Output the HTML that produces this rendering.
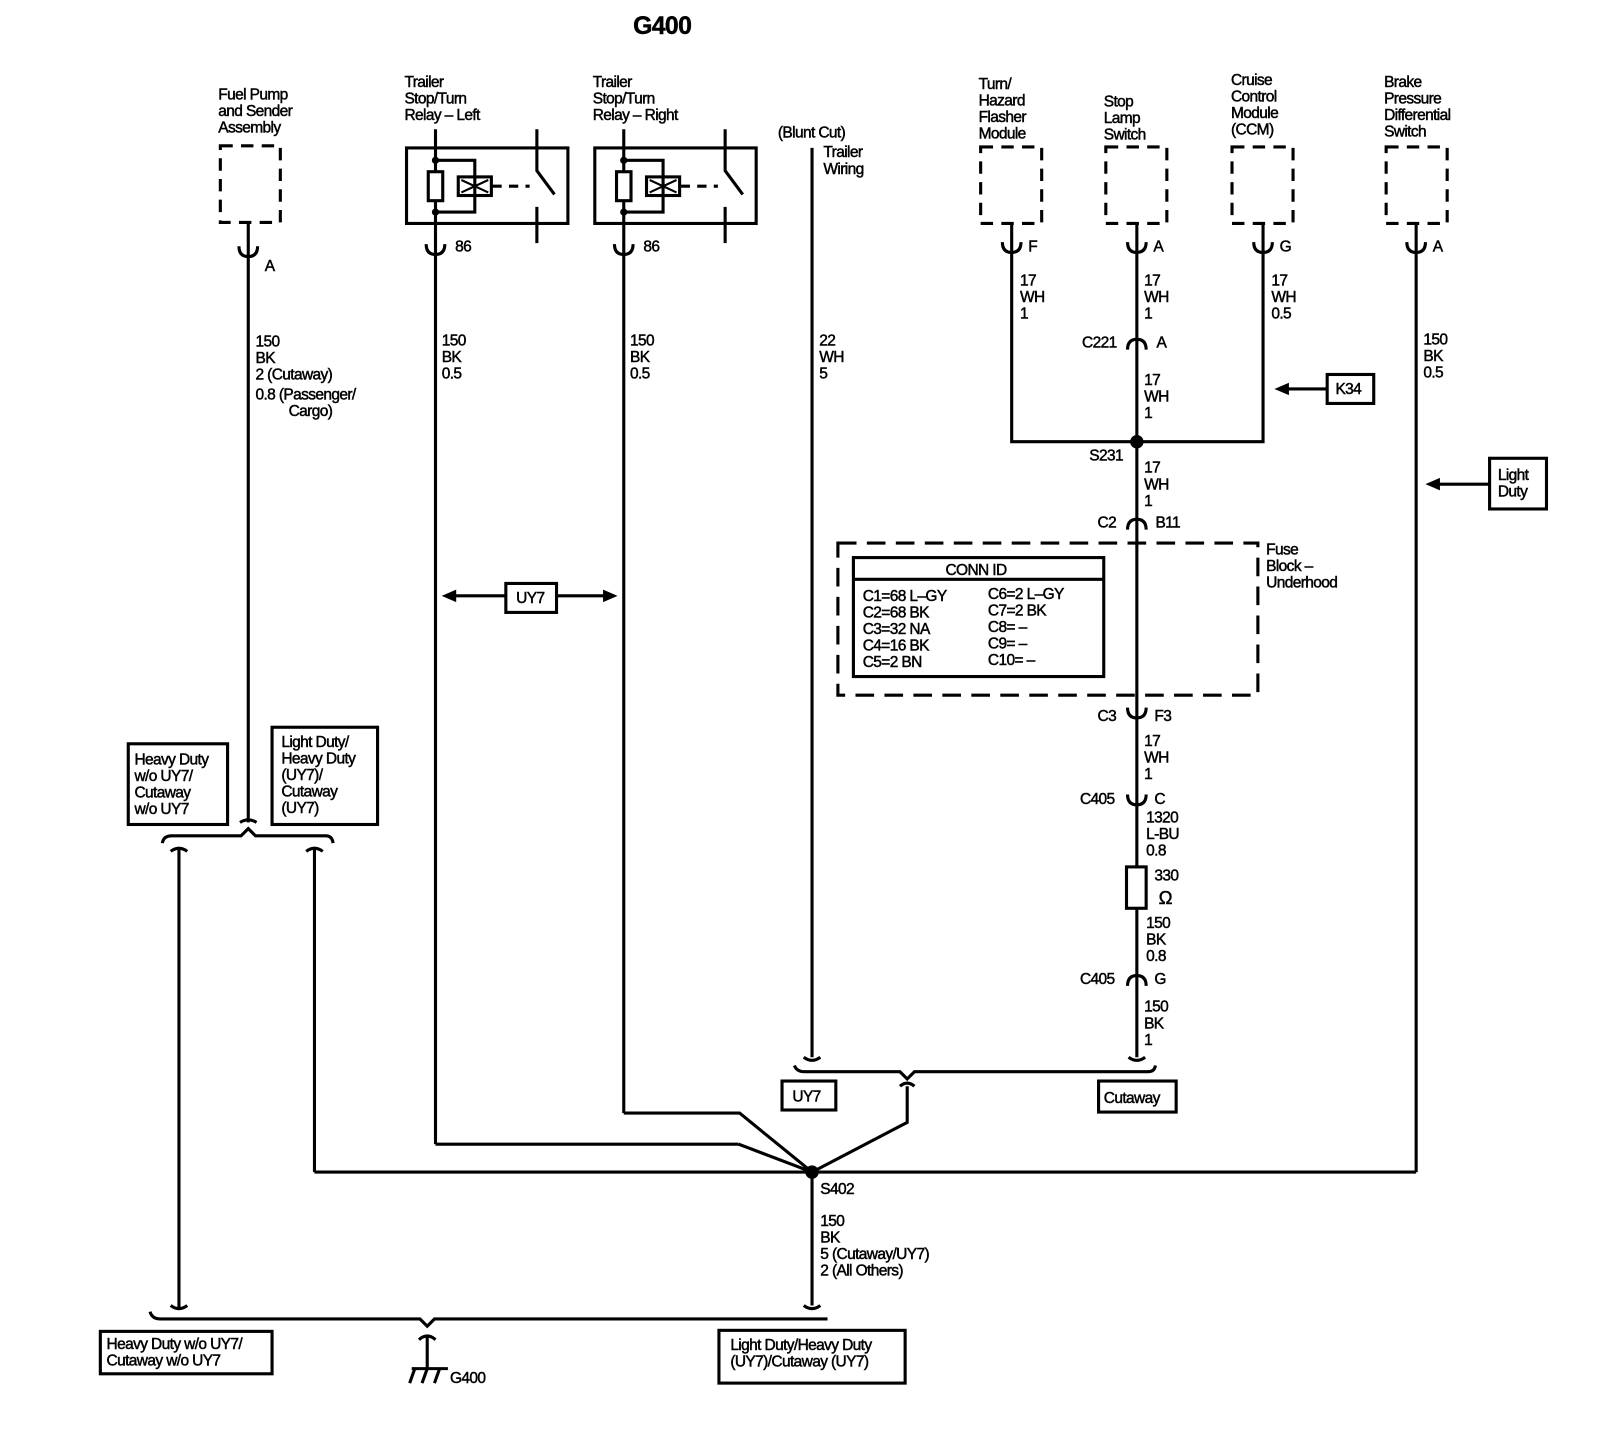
<!DOCTYPE html>
<html><head><meta charset="utf-8"><style>
html,body{margin:0;padding:0;background:#fff;}
svg{display:block;}
text{font-family:"Liberation Sans",Arial,sans-serif;font-size:15px;fill:#000;letter-spacing:-0.6px;stroke:#000;stroke-width:0.45px;}
</style></head><body>
<svg width="1622" height="1440" viewBox="0 0 1568 1392" preserveAspectRatio="none" xmlns="http://www.w3.org/2000/svg">
<g fill="none" stroke="#000" stroke-width="3">
<rect x="213" y="141" width="58" height="74" stroke-dasharray="12,8"/>
<line x1="240" y1="215" x2="240" y2="795"/>
<path d="M231 238 Q231 248 240 248 Q249 248 249 238"/>
<rect x="393" y="143" width="156" height="73"/>
<line x1="421" y1="125" x2="421" y2="1106"/>
<line x1="421" y1="1106" x2="714" y2="1106"/><line x1="714" y1="1106" x2="785" y2="1133"/>
<rect x="414" y="166" width="14" height="28" fill="#fff"/>
<path d="M421 155 H459 V205 H421"/>
<rect x="443" y="171" width="32" height="18"/>
<path d="M446 174 L472 186 M446 186 L472 174" stroke-width="2"/>
<line x1="476" y1="180" x2="512" y2="180" stroke-dasharray="9,7"/>
<path d="M519 125 V165 L536 188 M519 200 V235"/>
<path d="M412 236 Q412 246 421 246 Q430 246 430 236"/>
<rect x="575" y="143" width="156" height="73"/>
<line x1="603" y1="125" x2="603" y2="1076"/>
<path d="M603 1076 H715 L785 1133"/>
<rect x="596" y="166" width="14" height="28" fill="#fff"/>
<path d="M603 155 H641 V205 H603"/>
<rect x="625" y="171" width="32" height="18"/>
<path d="M628 174 L654 186 M628 186 L654 174" stroke-width="2"/>
<line x1="658" y1="180" x2="694" y2="180" stroke-dasharray="9,7"/>
<path d="M701 125 V165 L718 188 M701 200 V235"/>
<path d="M594 236 Q594 246 603 246 Q612 246 612 236"/>
<line x1="785" y1="143" x2="785" y2="1022"/>
<path d="M777 1022 Q785 1028 793 1022"/>
<rect x="489" y="564" width="49" height="28"/>
<line x1="438" y1="576" x2="489" y2="576"/><line x1="538" y1="576" x2="586" y2="576"/>
<rect x="948" y="142" width="59" height="74" stroke-dasharray="12,8"/>
<rect x="1069" y="142" width="59" height="74" stroke-dasharray="12,8"/>
<rect x="1191" y="142" width="59" height="74" stroke-dasharray="12,8"/>
<rect x="1340" y="142" width="59" height="74" stroke-dasharray="12,8"/>
<path d="M978 216 V427 H1221 V216"/>
<path d="M969 234 Q969 244 978 244 Q987 244 987 234 M1090 234 Q1090 244 1099 244 Q1108 244 1108 234 M1212 234 Q1212 244 1221 244 Q1230 244 1230 234 M1360 234 Q1360 244 1369 244 Q1378 244 1378 234"/>
<line x1="1099" y1="216" x2="1099" y2="1022"/>
<path d="M1091 1022 Q1099 1028 1107 1022"/>
<line x1="1369" y1="216" x2="1369" y2="1133"/>
<line x1="304" y1="1133" x2="1369" y2="1133"/>
<rect x="1283" y="362" width="45" height="28"/>
<line x1="1243" y1="376" x2="1283" y2="376"/>
<rect x="1440" y="443" width="55" height="49"/>
<line x1="1390" y1="468" x2="1440" y2="468"/>
<path d="M1090 338 Q1090 328 1099 328 Q1108 328 1108 338 M1090 512 Q1090 502 1099 502 Q1108 502 1108 512 M1090 684 Q1090 694 1099 694 Q1108 694 1108 684 M1090 768 Q1090 778 1099 778 Q1108 778 1108 768 M1090 953 Q1090 943 1099 943 Q1108 943 1108 953"/>
<rect x="1089" y="838" width="19" height="40" fill="#fff"/>
<rect x="810" y="525" width="406" height="147" stroke-dasharray="18,10"/>
<rect x="825" y="539" width="242" height="115"/>
<line x1="825" y1="560" x2="1067" y2="560"/>
<path d="M768 1030 Q770 1036 778 1036 H870 L877 1043 L884 1036 H1110 Q1116 1036 1117 1030"/>
<path d="M870 1050 Q877 1044 884 1050 M877 1050 V1085 L785 1133"/>
<rect x="756" y="1045" width="52" height="28"/>
<rect x="1062" y="1045" width="75" height="30"/>
<path d="M232 795 Q240 790 248 795"/>
<path d="M157 815 Q158 808 166 808 H233 L240 801 L247 808 H315 Q321 808 322 815"/>
<path d="M165 823 Q173 817 181 823 M296 823 Q304 817 312 823"/>
<line x1="173" y1="820" x2="173" y2="1265"/>
<line x1="304" y1="820" x2="304" y2="1133"/>
<rect x="124" y="719" width="96" height="78"/>
<rect x="263" y="703" width="102" height="94"/>
<circle cx="785" cy="1133" r="5" fill="#000"/>
<circle cx="1099" cy="427" r="5" fill="#000"/>
<line x1="785" y1="1133" x2="785" y2="1262"/>
<path d="M165 1262 Q173 1268 181 1262 M777 1262 Q785 1268 793 1262"/>
<path d="M145 1268 Q147 1275 155 1275 H406 L413 1282 L420 1275 H800"/>
<path d="M405 1295 Q413 1288 421 1295 M413 1293 V1323 M398 1323 H433 M401 1323 L396 1337 M413 1323 L408 1337 M425 1323 L420 1337"/>
<rect x="97" y="1287" width="166" height="41"/>
<rect x="695" y="1286" width="180" height="51"/>
</g>
<g fill="#000">
<polygon points="427,576 441,570 441,582"/>
<polygon points="597,576 583,570 583,582"/>
<polygon points="1232,376 1246,370 1246,382"/>
<polygon points="1378,468 1392,462 1392,474"/>
<circle cx="421" cy="155" r="3.5"/><circle cx="421" cy="205" r="3.5"/>
<circle cx="603" cy="155" r="3.5"/><circle cx="603" cy="205" r="3.5"/>
</g>
<text x="612" y="33" style="font-size:24px;font-weight:bold">G400</text>
<text x="211" y="96">Fuel Pump</text><text x="211" y="112">and Sender</text><text x="211" y="128">Assembly</text>
<text x="256" y="262">A</text>
<text x="247" y="335">150</text><text x="247" y="351">BK</text><text x="247" y="367">2 (Cutaway)</text><text x="247" y="386">0.8 (Passenger/</text><text x="279" y="402">Cargo)</text>
<text x="391" y="84">Trailer</text><text x="391" y="100">Stop/Turn</text><text x="391" y="116">Relay – Left</text>
<text x="573" y="84">Trailer</text><text x="573" y="100">Stop/Turn</text><text x="573" y="116">Relay – Right</text>
<text x="440" y="243">86</text><text x="622" y="243">86</text>
<text x="427" y="334">150</text><text x="427" y="350">BK</text><text x="427" y="366">0.5</text>
<text x="609" y="334">150</text><text x="609" y="350">BK</text><text x="609" y="366">0.5</text>
<text x="752" y="133">(Blunt Cut)</text><text x="796" y="152">Trailer</text><text x="796" y="168">Wiring</text>
<text x="792" y="334">22</text><text x="792" y="350">WH</text><text x="792" y="366">5</text>
<text x="499" y="583">UY7</text>
<text x="946" y="86">Turn/</text><text x="946" y="102">Hazard</text><text x="946" y="118">Flasher</text><text x="946" y="134">Module</text>
<text x="1067" y="103">Stop</text><text x="1067" y="119">Lamp</text><text x="1067" y="135">Switch</text>
<text x="1190" y="82">Cruise</text><text x="1190" y="98">Control</text><text x="1190" y="114">Module</text><text x="1190" y="130">(CCM)</text>
<text x="1338" y="84">Brake</text><text x="1338" y="100">Pressure</text><text x="1338" y="116">Differential</text><text x="1338" y="132">Switch</text>
<text x="994" y="243">F</text><text x="1115" y="243">A</text><text x="1237" y="243">G</text><text x="1385" y="243">A</text>
<text x="986" y="276">17</text><text x="986" y="292">WH</text><text x="986" y="308">1</text>
<text x="1106" y="276">17</text><text x="1106" y="292">WH</text><text x="1106" y="308">1</text>
<text x="1229" y="276">17</text><text x="1229" y="292">WH</text><text x="1229" y="308">0.5</text>
<text x="1376" y="333">150</text><text x="1376" y="349">BK</text><text x="1376" y="365">0.5</text>
<text x="1046" y="336">C221</text><text x="1118" y="336">A</text>
<text x="1106" y="372">17</text><text x="1106" y="388">WH</text><text x="1106" y="404">1</text>
<text x="1291" y="381">K34</text>
<text x="1448" y="464">Light</text><text x="1448" y="480">Duty</text>
<text x="1053" y="445">S231</text>
<text x="1106" y="457">17</text><text x="1106" y="473">WH</text><text x="1106" y="489">1</text>
<text x="1061" y="510">C2</text><text x="1117" y="510">B11</text>
<text x="1224" y="536">Fuse</text><text x="1224" y="552">Block –</text><text x="1224" y="568">Underhood</text>
<text x="914" y="556">CONN ID</text>
<text x="834" y="581">C1=68 L–GY</text><text x="834" y="597">C2=68 BK</text><text x="834" y="613">C3=32 NA</text><text x="834" y="629">C4=16 BK</text><text x="834" y="645">C5=2 BN</text>
<text x="955" y="579">C6=2 L–GY</text><text x="955" y="595">C7=2 BK</text><text x="955" y="611">C8= –</text><text x="955" y="627">C9= –</text><text x="955" y="643">C10= –</text>
<text x="1061" y="697">C3</text><text x="1116" y="697">F3</text>
<text x="1106" y="721">17</text><text x="1106" y="737">WH</text><text x="1106" y="753">1</text>
<text x="1044" y="777">C405</text><text x="1116" y="777">C</text>
<text x="1108" y="795">1320</text><text x="1108" y="811">L-BU</text><text x="1108" y="827">0.8</text>
<text x="1116" y="851">330</text><text x="1120" y="874" style="font-size:18px">Ω</text>
<text x="1108" y="897">150</text><text x="1108" y="913">BK</text><text x="1108" y="929">0.8</text>
<text x="1044" y="951">C405</text><text x="1116" y="951">G</text>
<text x="1106" y="978">150</text><text x="1106" y="994">BK</text><text x="1106" y="1010">1</text>
<text x="766" y="1065">UY7</text><text x="1067" y="1066">Cutaway</text>
<text x="130" y="739">Heavy Duty</text><text x="130" y="755">w/o UY7/</text><text x="130" y="771">Cutaway</text><text x="130" y="787">w/o UY7</text>
<text x="272" y="722">Light Duty/</text><text x="272" y="738">Heavy Duty</text><text x="272" y="754">(UY7)/</text><text x="272" y="770">Cutaway</text><text x="272" y="786">(UY7)</text>
<text x="793" y="1154">S402</text>
<text x="793" y="1185">150</text><text x="793" y="1201">BK</text><text x="793" y="1217">5 (Cutaway/UY7)</text><text x="793" y="1233">2 (All Others)</text>
<text x="103" y="1304">Heavy Duty w/o UY7/</text><text x="103" y="1320">Cutaway w/o UY7</text>
<text x="706" y="1305">Light Duty/Heavy Duty</text><text x="706" y="1321">(UY7)/Cutaway (UY7)</text>
<text x="435" y="1337">G400</text>
</svg>
</body></html>
